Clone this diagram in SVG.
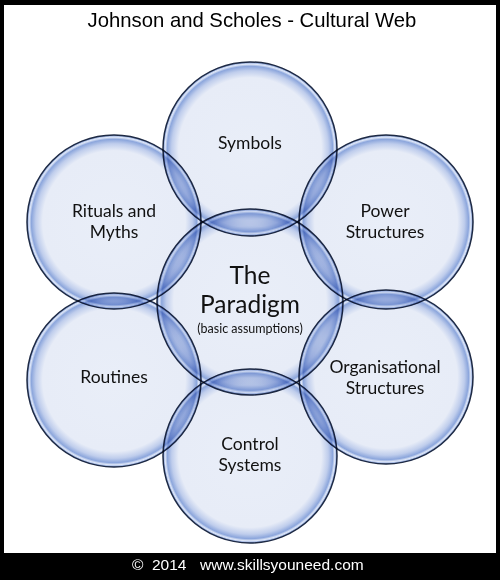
<svg xmlns="http://www.w3.org/2000/svg" width="500" height="580" viewBox="0 0 500 580">
<defs>
<radialGradient id="glass" cx="50%" cy="50%" r="50%">
<stop offset="0" stop-color="#E9EEF8"/>
<stop offset="0.82" stop-color="#E7ECF7"/>
<stop offset="0.90" stop-color="#BFCDEC"/>
<stop offset="0.95" stop-color="#8CA6DC"/>
<stop offset="0.975" stop-color="#E0E8F8"/>
<stop offset="1" stop-color="#6C8CD0"/>
</radialGradient>
<style>
.c{fill:url(#glass);stroke:#1E2A44;stroke-width:1.5;mix-blend-mode:multiply}
.t{font-family:Lato,"Open Sans",sans-serif;font-size:17.5px;fill:#111;text-anchor:middle}
.big{font-size:24.5px}
.small{font-size:12.5px}
.ft{font-family:"Liberation Sans",Arial,sans-serif;font-size:15.5px;fill:#fff}
</style>
</defs>
<rect x="0" y="0" width="500" height="580" fill="#000"/>
<rect x="4" y="5" width="492" height="548" fill="#fff"/>
<text x="252" y="27" font-family="Liberation Sans, Arial, sans-serif" font-size="20.3" text-anchor="middle" fill="#000">Johnson and Scholes - Cultural Web</text>
<g id="symbols"><circle class="c" cx="250" cy="149" r="87"/><text class="t" x="250" y="149">Symbols</text></g>
<g id="rituals"><circle class="c" cx="114" cy="222" r="87"/><text class="t" x="114" y="217">Rituals and</text><text class="t" x="114" y="238">Myths</text></g>
<g id="power"><circle class="c" cx="386" cy="222" r="87"/><text class="t" x="385" y="217">Power</text><text class="t" x="385" y="238">Structures</text></g>
<g id="routines"><circle class="c" cx="114" cy="380" r="87"/><text class="t" x="114" y="383">Routines</text></g>
<g id="organisational"><circle class="c" cx="386" cy="377" r="87"/><text class="t" x="385" y="373">Organisational</text><text class="t" x="385" y="394">Structures</text></g>
<g id="control"><circle class="c" cx="250" cy="456" r="87"/><text class="t" x="250" y="450">Control</text><text class="t" x="250" y="471">Systems</text></g>
<g id="paradigm"><circle class="c" cx="250" cy="302" r="93"/><text class="t big" x="250" y="284">The</text><text class="t big" x="250" y="313">Paradigm</text><text class="t small" x="250" y="333">(basic assumptions)</text></g>
<g id="connectors"></g>
<text class="ft" x="132" y="570">©</text>
<text class="ft" x="152" y="570">2014</text>
<text class="ft" x="200" y="570">www.skillsyouneed.com</text>
</svg>
